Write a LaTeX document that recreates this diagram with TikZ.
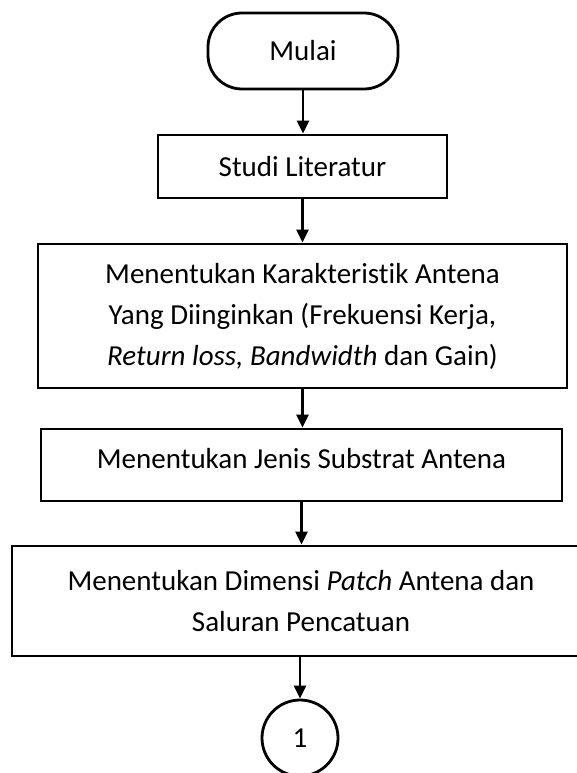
\documentclass[tikz,border=0pt]{standalone}
\usepackage{fontspec}
\setmainfont{Carlito}[Ligatures=NoCommon,RawFeature=-liga]
\usetikzlibrary{arrows.meta}
\begin{document}
\begin{tikzpicture}[x=1pt,y=-1pt,
  every node/.style={font=\fontsize{29}{41}\selectfont, inner sep=0pt, align=center},
  stepbox/.style={draw, line width=2.8pt, rectangle},
  term/.style={draw, line width=2.8pt, rectangle, rounded corners=34pt},
  conn/.style={draw, line width=2.8pt, circle},
  flow/.style={line width=2.6pt, -{Triangle[length=13pt,width=12pt]}}]
\useasboundingbox (0,0) rectangle (577,773);
\clip (0,0) rectangle (577,773);
\node[term, minimum width=190pt, minimum height=76pt] (mulai) at (303,51) {Mulai};
\node[stepbox, minimum width=289pt, minimum height=63pt] (studi) at (302.5,166.5) {Studi Literatur};
\node[stepbox, minimum width=529pt, minimum height=144pt] (kar) at (302.5,316) {Menentukan Karakteristik Antena\\Yang Diinginkan (Frekuensi Kerja,\\\textit{Return loss, Bandwidth} dan Gain)};
\node[stepbox, minimum width=521pt, minimum height=72pt, text depth=13pt] (jenis) at (301.5,465) {Menentukan Jenis Substrat Antena};
\node[stepbox, minimum width=578pt, minimum height=110pt] (dim) at (301,601) {Menentukan Dimensi \textit{Patch} Antena dan\\Saluran Pencatuan};
\node[conn, minimum size=76pt] (c1) at (300,738) {1};
\draw[flow] (mulai.south) -- (mulai.south |- studi.north);
\draw[flow] (studi.south) -- (studi.south |- kar.north);
\draw[flow] (kar.south) -- (kar.south |- jenis.north);
\draw[flow] (jenis.south) -- (jenis.south |- dim.north);
\draw[flow] (c1.north |- dim.south) -- (c1.north);
\end{tikzpicture}
\end{document}
